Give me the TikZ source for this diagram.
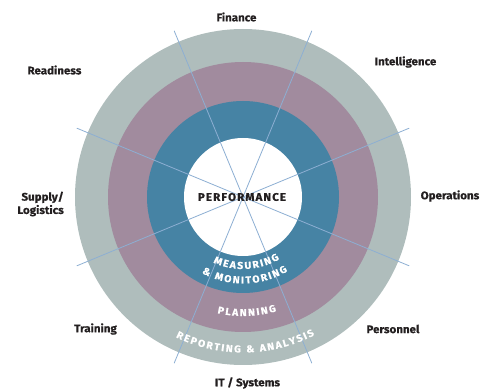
\documentclass[tikz,border=0pt]{standalone}
\usepackage{fontspec}
\usetikzlibrary{calc}
\newfontfamily\lblfont{Fira Sans}[FakeStretch=1.05, BoldFeatures={FakeBold=0.4}]
\definecolor{outerring}{HTML}{AFBDBC}
\definecolor{midring}{HTML}{A18B9E}
\definecolor{innerring}{HTML}{4683A4}
\definecolor{spokecol}{HTML}{8DAFD3}
\definecolor{labelcol}{HTML}{231F20}
\newcommand\ringfont{\lblfont\bfseries\fontsize{10}{12}\selectfont}
\newdimen\mytmpw
\newdimen\mytotw
\newdimen\mycurpos
\newcommand\defch[2]{\settowidth\mytmpw{\ringfont #2}\expandafter\xdef\csname chw@#1\endcsname{\the\mytmpw}\expandafter\gdef\csname chc@#1\endcsname{#2}}
% #1 radius, #2 letter spacing (pt), #3 centre angle, #4 comma list of character names
\newcommand\arctext[4]{%
  \global\mytotw=0pt
  \foreach \ch in {#4} {\edef\cw{\csname chw@\ch\endcsname}\global\advance\mytotw by \cw\relax\global\advance\mytotw by #2pt\relax}%
  \global\advance\mytotw by -#2pt\relax
  \global\mycurpos=0pt
  \foreach \ch in {#4} {%
    \edef\cw{\csname chw@\ch\endcsname}%
    \pgfmathsetmacro\ang{#3+((\mycurpos+0.5*\cw)-0.5*\mytotw)/#1*180/pi}%
    \node[ringletter, rotate=\ang-270] at ($(C)+(\ang:#1)$) {\csname chc@\ch\endcsname};
    \global\advance\mycurpos by \cw\relax
    \global\advance\mycurpos by #2pt\relax
  }%
}
\tikzset{
  lbl/.style={font=\lblfont\bfseries\fontsize{11}{13.3}\selectfont, text=labelcol, inner sep=0pt, align=center},
  spoke/.style={draw=spokecol, line width=0.8pt},
  ringletter/.style={font=\ringfont, text=white, inner sep=0pt, anchor=base}
}
\begin{document}
\defch{M}{M}\defch{E}{E}\defch{A}{A}\defch{S}{S}\defch{U}{U}\defch{R}{R}%
\defch{I}{I}\defch{N}{N}\defch{G}{G}\defch{O}{O}\defch{T}{T}\defch{P}{P}%
\defch{L}{L}\defch{Y}{Y}\defch{amp}{\&}\defch{sp}{\ }%
\expandafter\gdef\csname chc@sp\endcsname{}%
\begin{tikzpicture}[x=1pt,y=1pt]
\useasboundingbox (0,0) rectangle (483,389);
\coordinate (C) at (243,192);
\fill[outerring] (C) circle[radius=168];
\fill[midring] (C) circle[radius=135];
\fill[innerring] (C) circle[radius=96];
\fill[white] (C) circle[radius=59];
\foreach \i in {1,...,8} {
  \coordinate (s\i) at ($(C)+({22.5+45*(\i-1)}:180)$);
}
\foreach \i/\j in {1/5,2/6,3/7,4/8} { \draw[spoke] (s\i) -- (s\j); }
% curved ring texts
\arctext{72}{1.6}{273}{M,E,A,S,U,R,I,N,G}
\arctext{86.5}{1.6}{271.3}{amp,sp,M,O,N,I,T,O,R,I,N,G}
\arctext{119}{1.6}{271.9}{P,L,A,N,N,I,N,G}
\arctext{155.5}{1.6}{270.9}{R,E,P,O,R,T,I,N,G,sp,amp,sp,A,N,A,L,Y,S,I,S}
% labels
\node[lbl] (perf) at (242,192) {P\kern1.1pt E\kern1.1pt R\kern1.1pt F\kern1.1pt O\kern1.1pt R\kern1.1pt M\kern1.1pt A\kern1.1pt N\kern1.1pt C\kern1.1pt E};
\node[lbl] (fin) at (236.5,372) {Finance};
\node[lbl] (intel) at (405.5,327) {Intelligence};
\node[lbl] (ready) at (54.5,319) {Readiness};
\node[lbl] (ops) at (450,193) {Operations};
\node[lbl, align=right, anchor=east] (sup) at (64,185) {Supply/\\Logistics};
\node[lbl] (train) at (95.5,60) {Training};
\node[lbl] (pers) at (393,60) {Personnel};
\node[lbl] (its) at (247.5,6) {IT / Systems};
\end{tikzpicture}
\end{document}
